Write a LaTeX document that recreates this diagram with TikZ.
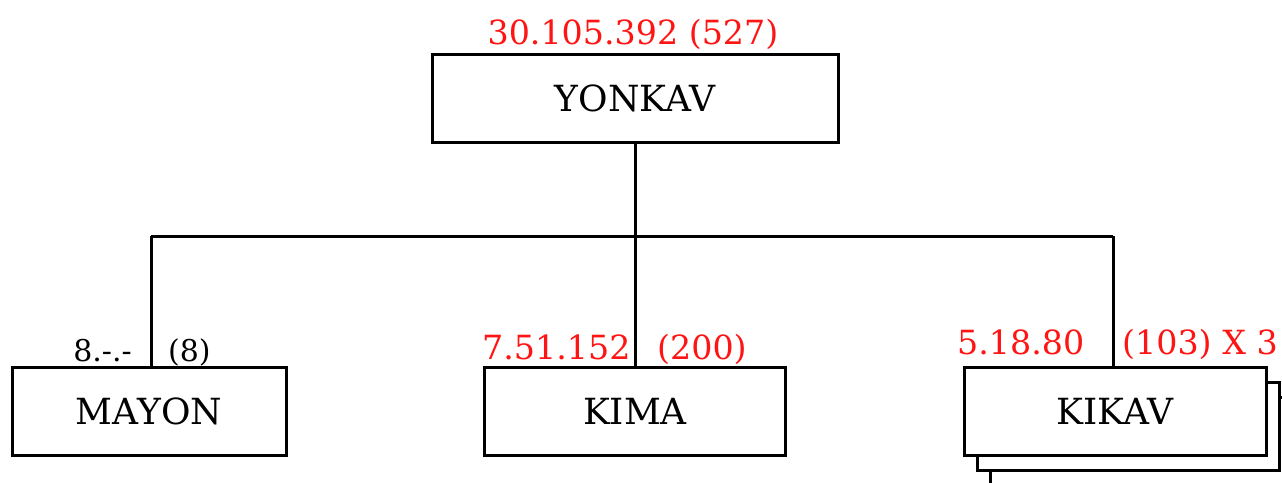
\documentclass[tikz,border=0pt]{standalone}
\usepackage{fontspec}
\setmainfont{DejaVu Serif}
\definecolor{lblred}{RGB}{255,20,20}
\begin{document}
\begin{tikzpicture}[x=1pt,y=-1pt,
  box/.style={draw=black,line width=3pt,fill=white,inner sep=0pt,
    minimum width=#1,minimum height=88pt,font=\fontsize{36}{42}\selectfont},
  box/.default=302pt,
  conn/.style={line width=3pt},
  redlbl/.style={text=lblred,inner sep=0pt,font=\fontsize{33.3}{38}\selectfont},
  blklbl/.style={text=black,inner sep=0pt,font=\fontsize{30}{36}\selectfont}]
\useasboundingbox (0,0) rectangle (1282,482);
\clip (0,0) rectangle (1282,482);
% boxes
\node[box=406pt] (yon) at (635,98) {YONKAV};
\node[box=274pt] (mayon) at (149,411) {MAYON};
\node[box=301pt] (kima) at (635,411) {KIMA};
\node[box=302pt] (kikavc) at (1141,441) {};
\node[box=302pt] (kikavb) at (1128,426) {};
\node[box=302pt] (kikav) at (1115,411) {KIKAV};
% connectors
\coordinate (hl) at (151,236);
\coordinate (hr) at (1113,236);
\draw[conn] (yon.south) -- (yon.south |- hl);
\draw[conn] (hl) -- (hr);
\draw[conn] (hl) -- (hl |- mayon.north);
\draw[conn] (kima.north |- hl) -- (kima.north);
\draw[conn] (hr) -- (hr |- kikav.north);
% labels
\node[redlbl,anchor=base] (lyon) at (633,44) {30.105.392 (527)};
\node[blklbl,anchor=base east] (lmay1) at (132,361) {8.-.-};
\node[blklbl,anchor=base west] (lmay2) at (168,361) {(8)};
\node[redlbl,anchor=base west] (lkim1) at (482,359) {7.51.152};
\node[redlbl,anchor=base west] (lkim2) at (657,359) {(200)};
\node[redlbl,anchor=base west] (lkik1) at (957,354) {5.18.80};
\node[redlbl,anchor=base west] (lkik2) at (1122,354) {(103) X 3};
\end{tikzpicture}
\end{document}
